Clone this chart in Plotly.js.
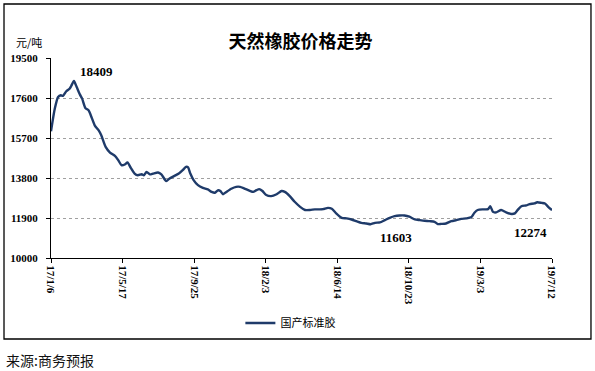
<!DOCTYPE html>
<html>
<head>
<meta charset="utf-8">
<script src="https://cdn.plot.ly/plotly-3.0.1.min.js"></script>
<style>
html,body{margin:0;padding:0;background:#fff;}
#chart{width:595px;height:371px;}
</style>
</head>
<body>
<div id="chart"></div>
<script>
const dates = [
'2017-01-06','2017-01-13','2017-01-19','2017-01-24','2017-01-28','2017-02-03','2017-02-09','2017-02-12','2017-02-17','2017-02-22',
'2017-02-28','2017-03-04','2017-03-10','2017-03-16','2017-03-21','2017-03-27','2017-04-03','2017-04-08','2017-04-16','2017-04-24',
'2017-05-03','2017-05-09','2017-05-15','2017-05-21','2017-05-26','2017-06-01','2017-06-08','2017-06-14','2017-06-21','2017-06-25',
'2017-06-30','2017-07-06','2017-07-12','2017-07-21','2017-07-27','2017-08-05','2017-08-11','2017-08-20','2017-08-28','2017-09-04',
'2017-09-10','2017-09-14','2017-09-18','2017-09-24','2017-10-02','2017-10-11','2017-10-20','2017-10-27','2017-11-02','2017-11-08',
'2017-11-12','2017-11-17','2017-11-23','2017-12-02','2017-12-11','2017-12-18','2017-12-26','2018-01-05','2018-01-11','2018-01-17',
'2018-01-22','2018-01-28','2018-02-04','2018-02-13','2018-02-23','2018-03-04','2018-03-10','2018-03-19','2018-03-28','2018-04-07',
'2018-04-16','2018-04-25','2018-05-04','2018-05-13','2018-05-19','2018-05-28','2018-06-04','2018-06-12','2018-06-22','2018-07-01',
'2018-07-10','2018-07-19','2018-07-28','2018-08-06','2018-08-14','2018-08-22','2018-08-31','2018-09-09','2018-09-18','2018-09-27',
'2018-10-06','2018-10-15','2018-10-24','2018-11-03','2018-11-12','2018-11-21','2018-11-30','2018-12-09','2018-12-15','2018-12-21',
'2018-12-30','2019-01-09','2019-01-18','2019-01-27','2019-02-05','2019-02-14','2019-02-20','2019-02-26','2019-03-08','2019-03-17',
'2019-03-21','2019-03-26','2019-04-01','2019-04-10','2019-04-19','2019-04-29','2019-05-05','2019-05-11','2019-05-17','2019-05-26',
'2019-06-01','2019-06-10','2019-06-15','2019-06-23','2019-06-29','2019-07-05','2019-07-12'
];
const prices = [
16020,17100,17650,17730,17700,17920,18040,18170,18409,18120,
17760,17570,17120,17010,16700,16300,16070,15830,15280,15010,
14850,14650,14410,14440,14540,14280,14010,13930,13980,13930,
14090,13970,14010,14060,13970,13650,13780,13900,14010,14170,
14330,14300,14010,13700,13460,13330,13260,13140,13100,13220,
13180,13030,13140,13290,13380,13380,13300,13190,13140,13220,
13270,13180,12990,12940,13030,13180,13140,12940,12670,12430,
12280,12280,12310,12310,12320,12380,12340,12120,11910,11880,
11830,11750,11670,11640,11603,11670,11690,11800,11910,11990,
12020,12020,11960,11830,11800,11770,11750,11720,11610,11620,
11640,11750,11800,11860,11880,11930,12150,12280,12310,12320,
12460,12190,12170,12280,12170,12090,12120,12310,12460,12500,
12560,12590,12650,12620,12590,12430,12274
];
const seriesName = '国产标准胶';
const xTickVals = ['2017-01-06','2017-05-17','2017-09-25','2018-02-03','2018-06-14','2018-10-23','2019-03-03','2019-07-12'];
const xTickText = ['17/1/6','17/5/17','17/9/25','18/2/3','18/6/14','18/10/23','19/3/3','19/7/12'];
const yTickVals = [10000,11900,13800,15700,17600,19500];
const yTickText = ['10000','11900','13800','15700','17600','19500'];
const labelPoints = [
  {x:'2017-02-17', y:18409, text:'18409', ax:23, ay:-9},
  {x:'2018-08-14', y:11603, text:'11603', ax:25, ay:13},
  {x:'2019-07-12', y:12274, text:'12274', ax:-22, ay:22}
];

const serif = 'Liberation Serif, Times New Roman, serif';
const cjk = 'Noto Sans CJK SC, sans-serif';

const trace = {
  x: dates, y: prices, type:'scatter', mode:'lines', name: seriesName,
  line:{color:'#1f3b6a', width:2.4, shape:'spline', smoothing:0.6},
  hoverinfo:'x+y'
};

const annotations = labelPoints.map(p => ({
  x:p.x, y:p.y, xref:'x', yref:'y', text:p.text, showarrow:true,
  arrowcolor:'rgba(0,0,0,0)', arrowwidth:0.1, arrowhead:0, ax:p.ax, ay:p.ay,
  font:{family:serif, size:13, color:'#000', weight:'bold'}
}));
annotations.push({
  xref:'paper', yref:'paper', x:-0.044, y:1.08, text:'元/吨', showarrow:false,
  xanchor:'center', yanchor:'middle', font:{family:cjk, size:11, color:'#000'}
});
annotations.push({
  xref:'paper', yref:'paper', x:-0.0938, y:-0.51, text:'来源:商务预报', showarrow:false,
  xanchor:'left', yanchor:'middle', font:{family:cjk, size:14, color:'#111'}
});

const layout = {
  width:595, height:371,
  margin:{l:51, r:43, t:58, b:113},
  paper_bgcolor:'#fff', plot_bgcolor:'#fff',
  title:{text:'天然橡胶价格走势', x:0.505, xanchor:'center', y:0.887, yanchor:'middle', xref:'container', yref:'container',
         font:{family:cjk, size:18, color:'#000', weight:'bold'}},
  showlegend:true,
  legend:{orientation:'h', x:0.378, xanchor:'left', y:-0.325, yanchor:'middle',
          font:{family:cjk, size:11, color:'#000'}, itemwidth:30, bgcolor:'rgba(0,0,0,0)'},
  xaxis:{type:'date', range:['2017-01-06','2019-07-12'], tickvals:xTickVals, ticktext:xTickText,
         tickangle:90, ticks:'outside', ticklen:4, tickcolor:'#000', showline:true, linecolor:'#000', linewidth:1,
         showgrid:false, zeroline:false, tickfont:{family:serif, size:11, color:'#000', weight:'bold'}, fixedrange:true},
  yaxis:{range:[10000,19500], tickvals:yTickVals, ticktext:yTickText, ticks:'outside', ticklen:4, tickcolor:'#000',
         showline:true, linecolor:'#000', linewidth:1, showgrid:true, gridcolor:'#a0a0a0', griddash:'dot', gridwidth:1,
         zeroline:false, ticklabelstandoff:6, tickfont:{family:serif, size:11, color:'#000', weight:'bold'}, fixedrange:true},
  annotations: annotations,
  shapes:[{type:'rect', xref:'paper', yref:'paper', x0:-0.0938, x1:1.0778, y0:-0.405, y1:1.27,
           line:{color:'#000', width:1.3}, fillcolor:'rgba(0,0,0,0)', layer:'below'}]
};

Plotly.newPlot('chart', [trace], layout, {displayModeBar:false, staticPlot:true});
</script>
</body>
</html>
